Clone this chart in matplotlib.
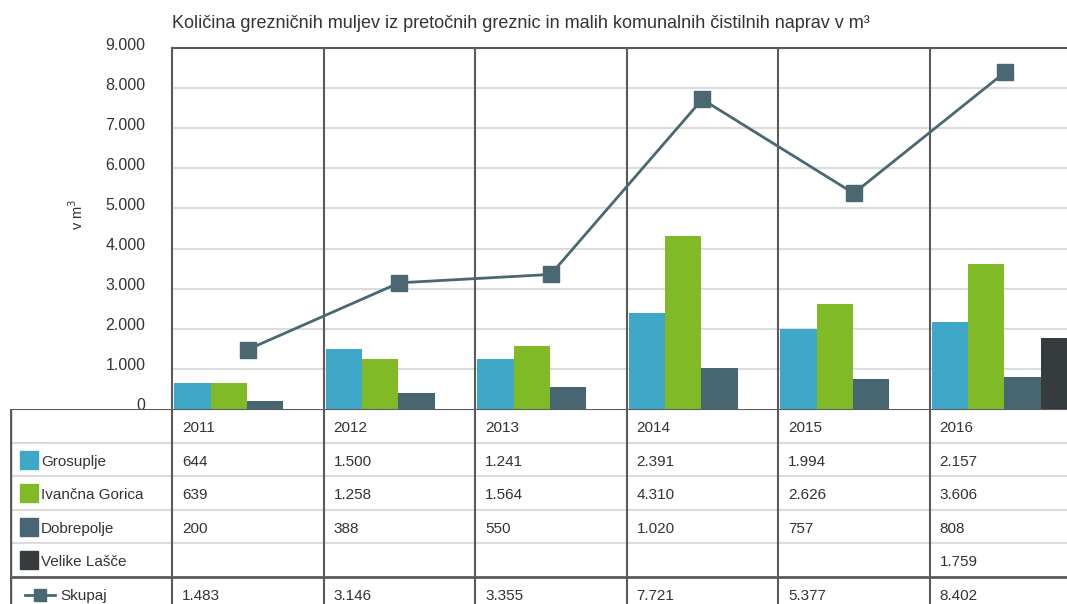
import matplotlib
matplotlib.use("Agg")
import matplotlib.pyplot as plt
from matplotlib.patches import Rectangle
from matplotlib.lines import Line2D
import matplotlib.transforms as mtransforms
import numpy as np

years = ['2011', '2012', '2013', '2014', '2015', '2016']
grosuplje = [644, 1500, 1241, 2391, 1994, 2157]
ivancna = [639, 1258, 1564, 4310, 2626, 3606]
dobrepolje = [200, 388, 550, 1020, 757, 808]
velike = [None, None, None, None, None, 1759]
skupaj = [1483, 3146, 3355, 7721, 5377, 8402]
series_names = ['Grosuplje', 'Ivančna Gorica', 'Dobrepolje', 'Velike Lašče']
line_name = 'Skupaj'
title = 'Količina grezničnih muljev iz pretočnih greznic in malih komunalnih čistilnih naprav v m³'
ylabel = 'v m$^3$'
yticks = [0, 1000, 2000, 3000, 4000, 5000, 6000, 7000, 8000, 9000]

colors = ['#3fa8c8', '#80ba27', '#476672', '#363b3d']
line_color = '#4a6772'
dark = '#5a5a5a'
light = '#dcdcdc'
txt = '#333333'

narrow = ['Liberation Sans Narrow', 'Liberation Sans', 'DejaVu Sans']
regular = ['Liberation Sans', 'DejaVu Sans']

def fmt(v):
    return f"{v:,}".replace(',', '.')

W, H = 1067, 604
fig = plt.figure(figsize=(W / 100, H / 100), dpi=100)

col_w = 151.5
x0 = 172
ax = fig.add_axes([x0 / W, (H - 409) / H, 6 * col_w / W, (409 - 48) / H])
n = len(years)
bw = 0.24
data = [grosuplje, ivancna, dobrepolje, velike]
for k, (vals, c) in enumerate(zip(data, colors)):
    xs = [i + 0.015 + k * bw for i in range(n) if vals[i] is not None]
    hs = [v for v in vals if v is not None]
    ax.bar(xs, hs, width=bw, align='edge', color=c, zorder=3)
xc = np.arange(n) + 0.5
ax.plot(xc, skupaj, color=line_color, lw=2.0, marker='s', markersize=12, zorder=4)

ax.set_xlim(0, 6)
ax.set_ylim(0, 9000)
ax.set_yticks(yticks)
ax.set_yticklabels([fmt(v) for v in yticks], family=narrow, fontsize=11.5, color=txt)
ax.tick_params(axis='y', length=0, pad=19)
ax.set_xticks([])
off = mtransforms.ScaledTranslation(0, 3 / 100, fig.dpi_scale_trans)
for t in ax.get_yticklabels():
    t.set_va('center')
    t.set_transform(t.get_transform() + off)
for v in yticks[1:]:
    ax.axhline(v, color=light, lw=1.5, zorder=1)
for i in range(1, n):
    ax.axvline(i, color=dark, lw=1.5, zorder=2)
for s in ['right', 'bottom']:
    ax.spines[s].set_visible(False)
ax.spines['left'].set_color(dark)
ax.spines['left'].set_linewidth(1.5)
ax.spines['top'].set_color(dark)
ax.spines['top'].set_linewidth(1.5)
ax.text(-0.105, 0.54, ylabel, transform=ax.transAxes, rotation=90,
        ha='center', va='center', fontsize=10.5, color=txt, family=narrow)

fig.text(x0 / W, 1 - 23 / H, title, ha='left', va='center', fontsize=13,
         color=txt, family=regular)

# table
row_h = 33.5
nrows = 6
left_px = 10
tab = fig.add_axes([left_px / W, (H - 409 - nrows * row_h) / H,
                    (x0 + 6 * col_w - left_px) / W, nrows * row_h / H])
xl = -(x0 - left_px) / col_w
tab.set_xlim(xl, 6)
tab.set_ylim(nrows, 0)
tab.axis('off')

for r in range(1, 5):
    tab.plot([xl, 6], [r, r], color=light, lw=1.5, zorder=1)
tab.plot([xl, 6], [5, 5], color=dark, lw=2, zorder=2)
tab.plot([xl, 6], [0, 0], color=dark, lw=1.5, zorder=2)
tab.plot([xl, xl], [0, nrows], color=dark, lw=2.5, zorder=2)
for i in range(n):
    tab.plot([i, i], [0, nrows], color=dark, lw=1.5, zorder=2)

fs = 11
tx = 0.066
for i, y in enumerate(years):
    tab.text(i + tx, 0.58, y, ha='left', va='center', fontsize=fs, color=txt, family=narrow)

rows = data + [skupaj]
for r, vals in enumerate(rows, start=1):
    for i, v in enumerate(vals):
        if v is not None:
            tab.text(i + tx, r + 0.58, fmt(v), ha='left', va='center', fontsize=fs,
                     color=txt, family=narrow)

sw = 18 / col_w
sh = 18 / row_h
for r, (name, c) in enumerate(zip(series_names, colors), start=1):
    tab.add_patch(Rectangle((xl + 10 / col_w, r + 0.52 - sh / 2), sw, sh,
                            color=c, zorder=3))
    tab.text(xl + 31 / col_w, r + 0.58, name, ha='left', va='center', fontsize=fs,
             color=txt, family=narrow)
ly = 5 + 0.55
tab.add_line(Line2D([xl + 15 / col_w, xl + 45 / col_w], [ly, ly], color=line_color,
                    lw=2.0, zorder=3))
tab.add_line(Line2D([xl + 30 / col_w], [ly], color=line_color, marker='s',
                    markersize=8, zorder=4))
tab.text(xl + 50 / col_w, ly + 0.03, line_name, ha='left', va='center', fontsize=fs,
         color=txt, family=narrow)

fig.savefig('out.png', dpi=100)
